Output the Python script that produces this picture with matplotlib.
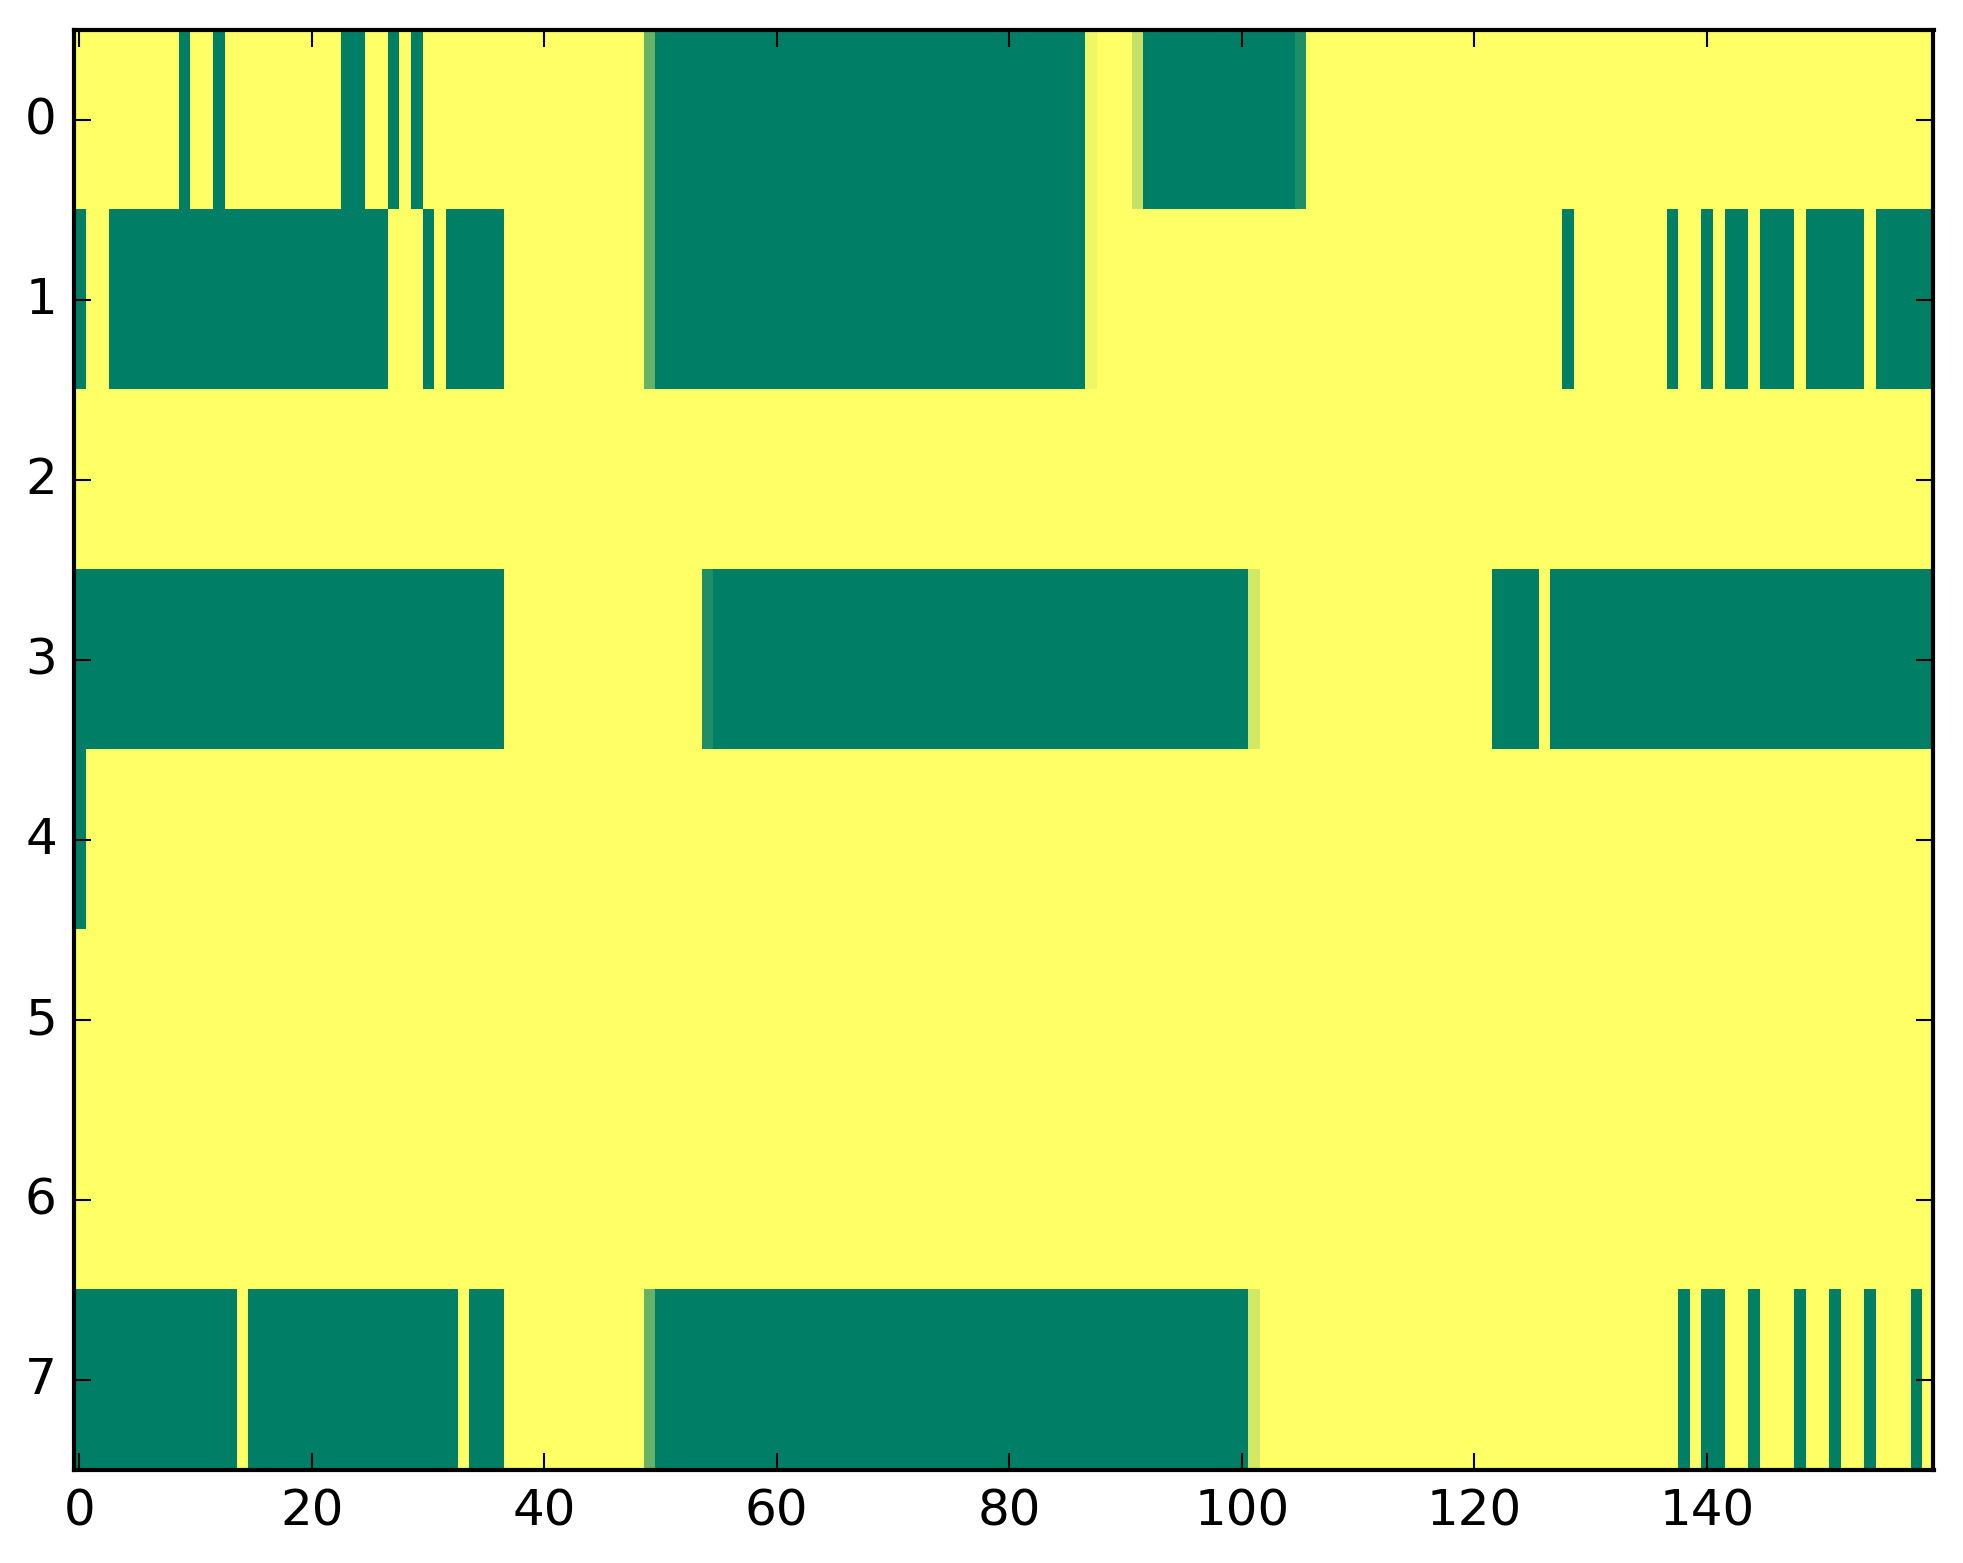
import numpy as np
import matplotlib as mpl
mpl.use("Agg")
import matplotlib.pyplot as plt

# one string per row, 160 cells; 1 = yellow, 0 = green, letters = in-between values
row0 = "1111111110 1101111111 1110011010 1111111111 111111111b 0000000000 0000000000 0000000000 0000000e11 1c00000000 00000a1111 1111111111 1111111111 1111111111 1111111111 1111111111"
row1 = "0110000000 0000000000 0000000111 0100000111 111111111b 0000000000 0000000000 0000000000 0000000e11 1111111111 1111111111 1111111111 1111111101 1111111011 0100100010 0000100000"
row2 = "1111111111 1111111111 1111111111 1111111111 1111111111 1111111111 1111111111 1111111111 1111111111 1111111111 1111111111 1111111111 1111111111 1111111111 1111111111 1111111111"
row3 = "0000000000 0000000000 0000000000 0000000111 1111111111 1111a00000 0000000000 0000000000 0000000000 0000000000 0d11111111 1111111111 1100001000 0000000000 0000000000 0000000000"
row4 = "0111111111 1111111111 1111111111 1111111111 1111111111 1111111111 1111111111 1111111111 1111111111 1111111111 1111111111 1111111111 1111111111 1111111111 1111111111 1111111111"
row5 = row2
row6 = row2
row7 = "0000000000 0000100000 0000000000 0001000111 111111111b 0000000000 0000000000 0000000000 0000000000 0000000000 0d11111111 1111111111 1111111111 1111111101 0011011101 1011011101"

levels = {"0": 0.0, "1": 1.0, "a": 0.12, "b": 0.40, "c": 0.77, "d": 0.83, "e": 0.94}

rows = [row0, row1, row2, row3, row4, row5, row6, row7]
data = np.array([[levels[ch] for ch in r.replace(" ", "")] for r in rows])
assert data.shape == (8, 160)

plt.style.use("classic")

fig = plt.figure(figsize=(1963 / 300, 1564 / 300), dpi=300, facecolor="white")
ax = fig.add_axes([73.5 / 1963, 93.5 / 1564, 1860 / 1963, 1440 / 1564])

ax.imshow(data, cmap="summer", vmin=0, vmax=1, aspect="auto", interpolation="nearest")

ax.set_xticks(np.arange(0, 160, 20))
ax.set_yticks(np.arange(0, 8))
ax.set_xlim(-0.5, 159.5)
ax.set_ylim(7.5, -0.5)

fig.savefig("out.png", dpi=300, facecolor="white")
